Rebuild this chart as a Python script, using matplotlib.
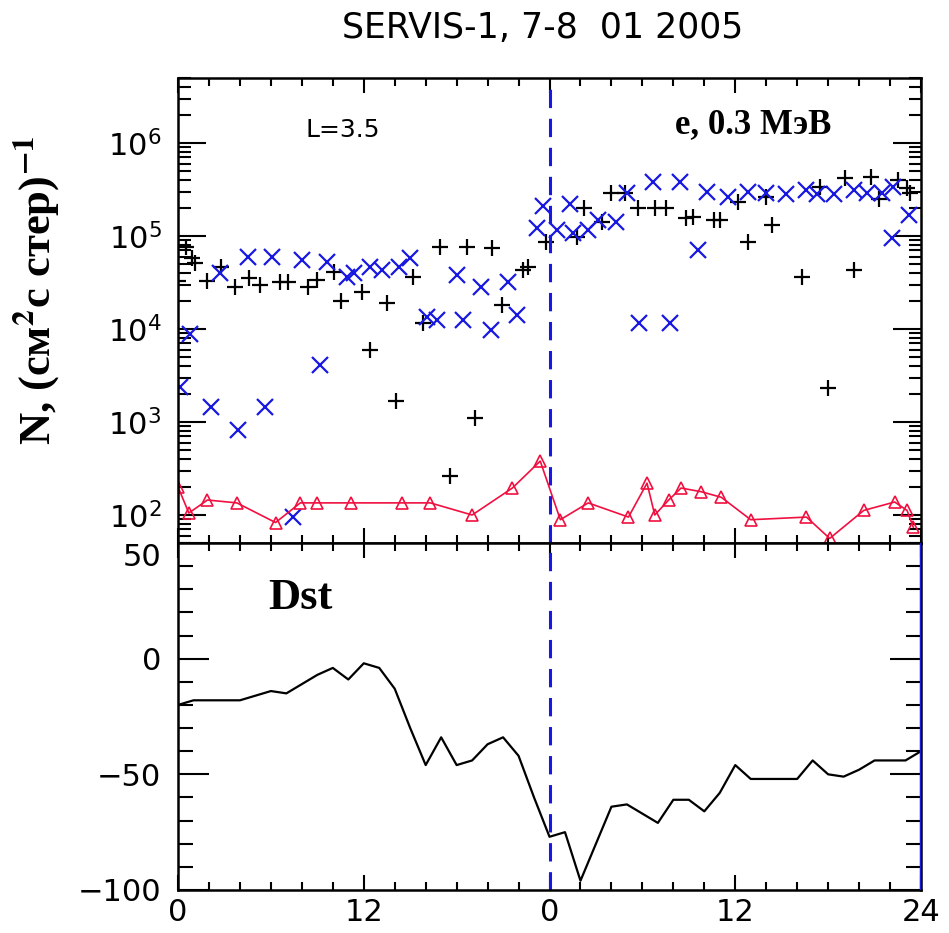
import numpy as np
import matplotlib
matplotlib.use('Agg')
import matplotlib.pyplot as plt
from matplotlib.ticker import LogLocator, NullFormatter, FixedLocator, MultipleLocator

# hours from start of 7 Jan 2005 (0..48)
plus_hours = [0.0, 0.5, 0.9, 1.1, 1.9, 2.8, 3.7, 4.6, 5.3, 6.6, 7.1, 8.4, 9.0, 10.1, 10.5,
              11.9, 12.4, 13.5, 14.1, 15.2, 15.8, 16.9, 17.6, 18.7, 19.2, 20.3, 20.9, 22.3,
              22.6, 23.8, 25.8, 26.2, 27.4, 28.0, 28.9, 29.7, 30.8, 31.5, 32.8, 33.3, 34.6,
              35.0, 36.2, 36.8, 38.0, 38.4, 40.3, 41.5, 42.0, 43.1, 43.7, 44.8, 45.3, 46.5,
              47.1, 47.3]
plus_flux = [3.3e4, 7.6e4, 5.8e4, 5.1e4, 3.3e4, 4.6e4, 2.8e4, 3.5e4, 3.0e4, 3.2e4, 3.2e4,
             2.8e4, 3.4e4, 4.1e4, 2.0e4, 2.5e4, 5.9e3, 1.9e4, 1.7e3, 3.6e4, 1.15e4, 7.6e4,
             2.6e2, 7.6e4, 1.1e3, 7.4e4, 1.8e4, 4.3e4, 4.6e4, 8.7e4, 9.8e4, 2.0e5, 1.4e5,
             2.9e5, 2.9e5, 2.0e5, 2.0e5, 2.0e5, 1.55e5, 1.6e5, 1.5e5, 1.5e5, 2.3e5, 8.7e4,
             2.6e5, 1.3e5, 3.6e4, 3.4e5, 2.3e3, 4.2e5, 4.3e4, 4.3e5, 2.5e5, 4.0e5, 3.3e5,
             2.9e5]

cross_hours = [0.1, 0.8, 2.1, 2.7, 3.9, 4.5, 5.6, 6.1, 7.4, 8.0, 9.2, 9.6, 10.9, 11.4, 12.4,
               13.2, 14.3, 15.0, 16.1, 16.7, 18.0, 18.4, 19.6, 20.2, 21.3, 21.9, 23.2, 23.6,
               24.5, 25.3, 25.5, 26.5, 27.1, 28.3, 29.0, 29.8, 30.7, 31.8, 32.4, 33.6, 34.2,
               35.5, 36.8, 38.0, 39.3, 40.6, 41.3, 42.4, 43.7, 44.5, 45.5, 46.1, 46.2, 47.2]
cross_flux = [2.4e3, 8.9e3, 1.45e3, 4.0e4, 8.3e2, 5.9e4, 1.45e3, 5.9e4, 95, 5.5e4, 4.1e3,
              5.2e4, 3.6e4, 4.0e4, 4.6e4, 4.3e4, 4.6e4, 5.8e4, 1.35e4, 1.26e4, 3.8e4, 1.26e4,
              2.8e4, 9.8e3, 3.2e4, 1.4e4, 1.23e5, 2.1e5, 1.15e5, 2.2e5, 1.07e5, 1.15e5, 1.5e5,
              1.4e5, 2.9e5, 1.15e4, 3.8e5, 1.15e4, 3.8e5, 7.1e4, 3.0e5, 2.6e5, 3.0e5, 2.9e5,
              2.8e5, 3.1e5, 2.8e5, 2.8e5, 3.1e5, 2.9e5, 2.9e5, 9.5e4, 3.4e5, 1.7e5]

tri_hours = [0.0, 0.7, 1.9, 3.8, 6.3, 7.9, 9.0, 11.2, 14.5, 16.3, 19.0, 21.6, 23.4, 24.7,
             26.5, 29.1, 30.3, 30.8, 31.7, 32.5, 33.8, 35.1, 37.0, 40.6, 42.1, 44.3, 46.3,
             47.1, 47.5]
tri_flux = [200, 105, 145, 135, 83, 135, 135, 135, 135, 135, 100, 195, 380, 89, 135, 95, 220,
            100, 145, 195, 178, 155, 89, 95, 56, 112, 138, 112, 74]

dst_hours = list(range(49))
dst_values = [-20, -18, -18, -18, -18, -16, -14, -15, -11, -7, -4, -9, -2, -4, -13, -30, -46,
              -34, -46, -44, -37, -34, -42, -60, -77, -75, -96, -80, -64, -63, -67, -71, -61,
              -61, -66, -58, -46, -52, -52, -52, -52, -44, -50, -51, -48, -44, -44, -44, -40]

x_ticks = [0, 12, 24, 36, 48]
x_labels = ['0', '12', '0', '12', '24']

blue = '#1818e0'
red = '#f01040'

plt.rcParams['font.family'] = 'DejaVu Sans'
fig = plt.figure(figsize=(9.49, 9.33), dpi=100)
ax1 = fig.add_axes([0.1876, 0.418, 0.7829, 0.4984])
ax2 = fig.add_axes([0.1876, 0.0461, 0.7829, 0.3719])

ax1.plot(plus_hours, plus_flux, ls='none', marker='+', color='black', ms=11, mew=1.6)
ax1.plot(cross_hours, cross_flux, ls='none', marker='x', color=blue, ms=11, mew=1.6)
ax1.plot(tri_hours, tri_flux, color=red, lw=1.2, marker='^', ms=8, mfc='none', mew=1.2)
ax1.set_yscale('log')
ax1.set_ylim(50, 5e6)
ax1.yaxis.set_minor_locator(LogLocator(base=10, subs=np.arange(2, 10), numticks=20))
ax1.yaxis.set_minor_formatter(NullFormatter())
ax1.set_yticks([1e2, 1e3, 1e4, 1e5, 1e6])
ax1.set_yticklabels([r'$10^{2}$', r'$10^{3}$', r'$10^{4}$', r'$10^{5}$', r'$10^{6}$'])
ax1.tick_params(axis='y', which='major', length=20, width=1.5)
ax1.tick_params(axis='y', which='minor', length=9, width=1.5)

ax2.plot(dst_hours, dst_values, color='black', lw=1.6)
ax2.set_ylim(-100, 50)
ax2.set_yticks([-100, -50, 0, 50])
ax2.yaxis.set_minor_locator(MultipleLocator(10))
ax2.tick_params(axis='y', which='major', length=22, width=1.5)
ax2.tick_params(axis='y', which='minor', length=11, width=1.5)
ax2.axvline(48, color=blue, lw=2.5, zorder=5)

for ax in (ax1, ax2):
    ax.set_xlim(0, 48)
    ax.xaxis.set_major_locator(FixedLocator(x_ticks))
    ax.xaxis.set_minor_locator(MultipleLocator(2))
    ax.axvline(24, color=blue, lw=2.2, dashes=(6, 3.5))
    ax.tick_params(which='both', direction='in', top=True, right=True, labelsize=22)
    ax.tick_params(axis='x', which='major', length=11, width=1.5)
    ax.tick_params(axis='x', which='minor', length=6, width=1.5)
    ax.tick_params(axis='y', pad=12)
    for s in ax.spines.values():
        s.set_linewidth(1.8)

ax1.set_xticklabels([])
ax2.set_xticklabels(x_labels)
ax2.tick_params(axis='x', pad=6)
ax2.get_yticklabels()[-1].set_va('top')

ax1.text(0.171, 0.888, 'L=3.5', transform=ax1.transAxes, fontsize=18, va='center')
ax1.text(0.669, 0.899, 'e, 0.3 МэВ', transform=ax1.transAxes, fontsize=25,
         family='Liberation Serif', weight='bold', va='center')
ax2.text(0.121, 0.841, 'Dst', transform=ax2.transAxes, fontsize=32,
         family='Liberation Serif', weight='bold', va='center')

fig.text(0.572, 1 - 28 / 933, 'SERVIS-1, 7-8  01 2005', fontsize=25, ha='center', va='center')
fig.text(0.039, 1 - 290 / 933, r'N, (см$^{\mathbf{2}}$с стер)$^{\mathbf{-1}}$', rotation=90,
         fontsize=32, family='Liberation Serif', weight='bold', math_fontfamily='stix',
         ha='center', va='center')

fig.savefig('out.png', dpi=100)
